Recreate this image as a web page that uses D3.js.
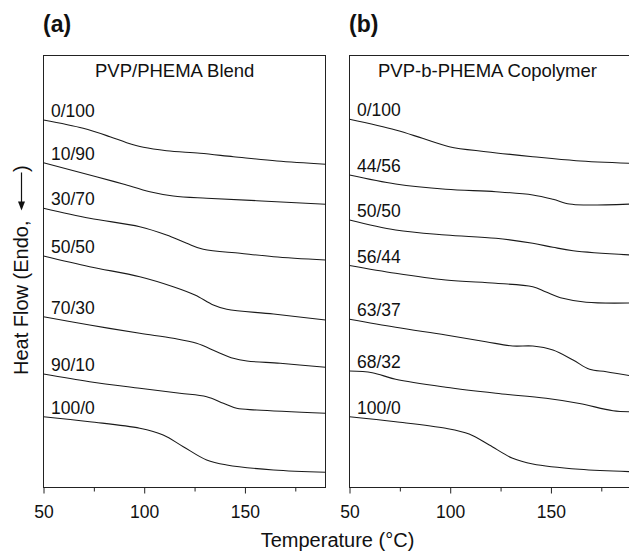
<!DOCTYPE html>
<html lang="en">
<head>
<meta charset="utf-8">
<title>DSC thermograms</title>
<style>
    body {
        margin: 0;
        background: #fff;
    }
    svg text {
        font-family: 'Liberation Sans', Arial, sans-serif;
        fill: #111;
    }
</style>
<script src="https://cdnjs.cloudflare.com/ajax/libs/d3/7.8.5/d3.min.js"></script>
</head>
<body>
<script>
    var svgW = 629;
    var svgH = 552;

    /* DATA: temperature (°C) vs heat flow (arbitrary units, curves offset) */

    var xTicks = [50, 100, 150];
    var xMinorTicks = [75, 125, 175];
    var panelTags = ["(a)", "(b)"];
    var panelTitles = ["PVP/PHEMA Blend", "PVP-b-PHEMA Copolymer"];

    var blendLabels = ["0/100", "10/90", "30/70", "50/50", "70/30", "90/10", "100/0"];
    var blendCurves = [
        [[50, 367.5], [69.7, 359.2], [83, 350.8], [91.3, 344.8], [99.6, 340.2], [111.1, 336.8], [127.7, 334.2], [144.3, 330.8], [165.9, 326.5], [190, 323.3]],
        [[50, 324.8], [76.2, 310.8], [89.5, 303.5], [102.8, 295.8], [114.4, 291.5], [131, 289.2], [155.9, 286.8], [190, 283.2]],
        [[50, 279.2], [72.9, 269.2], [97.8, 260.8], [111.1, 252.5], [121.1, 244.2], [129.3, 238.2], [147.6, 234.2], [164.2, 230.8], [190, 227.5]],
        [[50, 231.5], [72.9, 220.8], [97.8, 210.8], [114.4, 200.8], [125.2, 192.5], [134.3, 182.5], [141, 178.2], [164.2, 173.5], [190, 167.5]],
        [[50, 170.8], [72.9, 162.5], [97.8, 154.2], [114.4, 149.2], [126, 144.2], [136, 135.8], [144.2, 129.2], [151, 126.5], [167.5, 124.2], [190, 120.2]],
        [[50, 113.5], [72.9, 105.8], [97.8, 99.2], [117.7, 94.2], [131, 90.8], [139.3, 84.2], [145.9, 79.2], [155.9, 77.5], [190, 74.2]],
        [[50, 70.8], [72.9, 65.8], [97.8, 59.2], [109.4, 52.5], [119.4, 40.8], [131, 27.5], [141, 22.5], [164.2, 17.5], [190, 15.2]]
    ];

    var copolyLabels = ["0/100", "44/56", "50/50", "56/44", "63/37", "68/32", "100/0"];
    var copolyCurves = [
        [[50, 368.2], [72.9, 357.5], [86.2, 349.2], [99.5, 340.8], [117.7, 335.8], [141, 330.8], [162.5, 326.8], [190, 324.2]],
        [[50, 312.5], [72.9, 303.5], [97.8, 298.2], [122.7, 295.8], [141, 292.5], [151, 288.2], [159.2, 283.5], [167.5, 282.5], [190, 283.5]],
        [[50, 267.5], [72.9, 257.5], [97.8, 252.5], [122.7, 249.2], [141, 244.2], [151, 240.2], [161, 236.8], [190, 232.5]],
        [[50, 222], [72.9, 214.2], [97.8, 207.5], [122.7, 204.2], [141, 200.8], [147.6, 195.5], [155.9, 189.2], [167.5, 185.2], [190, 184.5]],
        [[50, 168.2], [72.9, 160.2], [97.8, 152.5], [117.7, 145.8], [131, 141.5], [141, 141.5], [151, 137.5], [161, 127.5], [169.2, 118.2], [177.5, 115.8], [190, 111.5]],
        [[50, 116.5], [61.3, 114.8], [72.9, 108.2], [97.8, 100.2], [122.7, 94.2], [147.6, 89.2], [164.2, 84], [180.8, 76.8], [190, 75.8]],
        [[50, 70.8], [72.9, 65.8], [97.8, 59.2], [109.4, 53.5], [119.4, 42.5], [131, 29.2], [141, 23.5], [164.2, 18.2], [190, 15.8]]
    ];

    var panelLabels = [blendLabels, copolyLabels];
    var panelCurves = [blendCurves, copolyCurves];

    /* LAYOUT */

    var panelLeft = [43.5, 349.5];
    var panelWidth = 282;
    var panelTop = 55.5;
    var panelBottom = 487.5;
    var titleOffset = [51.5, 28.5];

    var svg = d3.select("body").append("svg")
        .attr("width", svgW)
        .attr("height", svgH);

    var y = d3.scaleLinear()
        .domain([0, 432])
        .range([panelBottom, panelTop]);

    for (var p = 0; p < 2; p++) {
        var left = panelLeft[p];
        var x = d3.scaleLinear()
            .domain([50, 190])
            .range([left, left + panelWidth]);

        var g = svg.append("g");

        // minor ticks first, then major ticks with labels
        g.append("g")
            .attr("transform", "translate(0," + panelBottom + ")")
            .call(d3.axisBottom(x).tickValues(xMinorTicks).tickSize(4).tickFormat(""))
            .call(function (a) { a.select(".domain").remove(); });

        var ax = g.append("g")
            .attr("transform", "translate(0," + panelBottom + ")")
            .call(d3.axisBottom(x).tickValues(xTicks).tickSize(6).tickPadding(12).tickFormat(d3.format("d")));
        ax.select(".domain").remove();
        ax.selectAll(".tick text")
            .attr("font-size", 17.5)
            .attr("font-family", "'Liberation Sans', Arial, sans-serif")
            .attr("fill", "#111");
        g.selectAll(".tick line").attr("stroke", "#222");

        // frame
        g.append("rect")
            .attr("x", left)
            .attr("y", panelTop)
            .attr("width", panelWidth)
            .attr("height", panelBottom - panelTop)
            .attr("fill", "none")
            .attr("stroke", "#222")
            .attr("stroke-width", 1);

        var line = d3.line()
            .x(function (d) { return x(d[0]); })
            .y(function (d) { return y(d[1]); })
            .curve(d3.curveCatmullRom.alpha(0.5));

        var curves = panelCurves[p];
        var labels = panelLabels[p];

        for (var i = 0; i < curves.length; i++) {
            g.append("path")
                .attr("d", line(curves[i]))
                .attr("fill", "none")
                .attr("stroke", "#1a1a1a")
                .attr("stroke-width", 1.1);

            g.append("text")
                .text(labels[i])
                .attr("x", left + 7.5)
                .attr("y", y(curves[i][0][1]) - 3)
                .attr("font-size", 17.5);
        }

        g.append("text")
            .text(panelTitles[p])
            .attr("x", left + titleOffset[p])
            .attr("y", 77)
            .attr("font-size", 18.5);

        svg.append("text")
            .text(panelTags[p])
            .attr("x", left - 0.5)
            .attr("y", 32)
            .attr("font-size", 23)
            .attr("font-weight", "bold");
    }

    /* AXIS TITLES */

    svg.append("text")
        .text("Temperature (\u00B0C)")
        .attr("x", 337.5)
        .attr("y", 547)
        .attr("text-anchor", "middle")
        .attr("font-size", 20);

    var yl = svg.append("g")
        .attr("transform", "translate(28,375) rotate(-90)");

    var t1 = yl.append("text")
        .text("Heat Flow (Endo,")
        .attr("x", 0)
        .attr("y", 0)
        .attr("font-size", 20);

    var L = t1.node().getComputedTextLength();
    var a0 = L + 10;
    var a1 = L + 48;

    yl.append("line")
        .attr("x1", a0 + 4)
        .attr("x2", a1)
        .attr("y1", -6.5)
        .attr("y2", -6.5)
        .attr("stroke", "#111")
        .attr("stroke-width", 1.2);

    yl.append("path")
        .attr("d", "M" + a0 + "," + (-6.5) + "L" + (a0 + 9) + "," + (-10) + "L" + (a0 + 9) + "," + (-3) + "Z")
        .attr("fill", "#111");

    yl.append("text")
        .text(")")
        .attr("x", a1 + 0.5)
        .attr("y", 0)
        .attr("font-size", 20);
</script>
</body>
</html>
